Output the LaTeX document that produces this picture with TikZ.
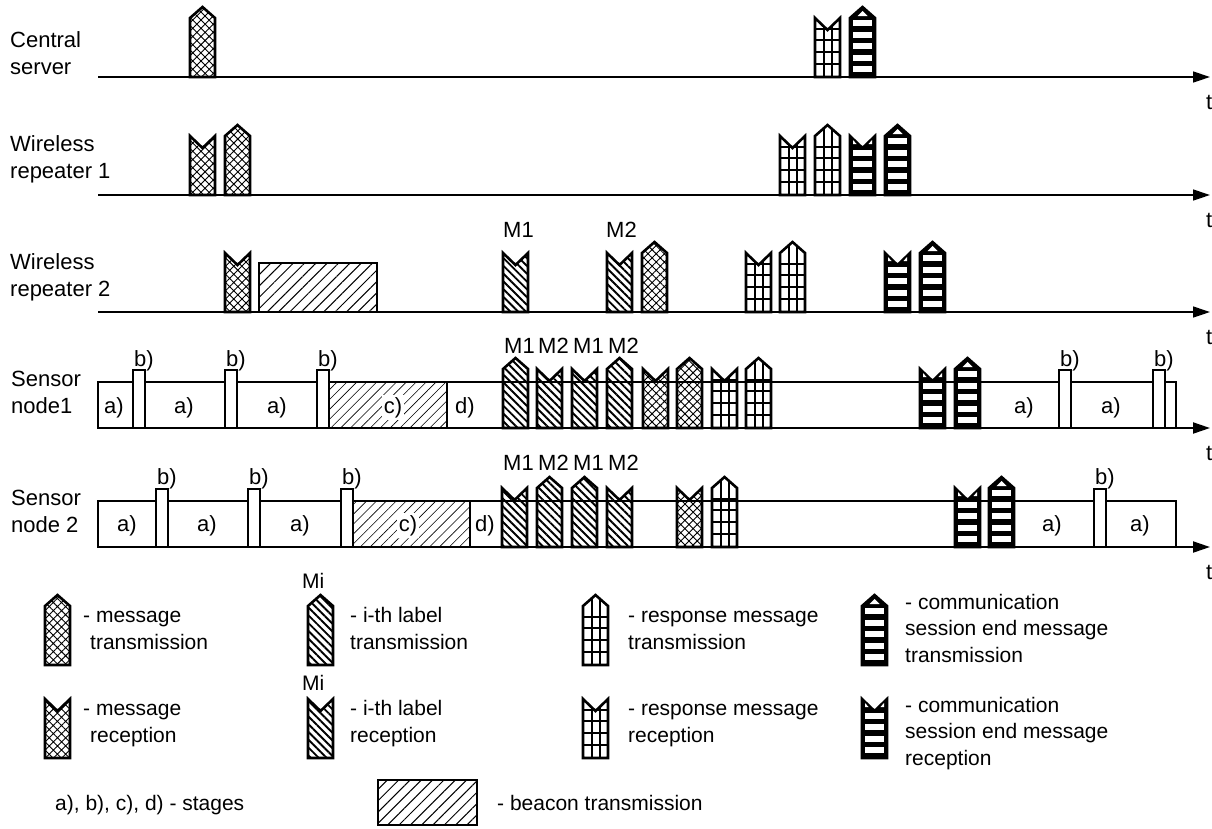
\documentclass[tikz,border=0pt]{standalone}
\usepackage{fontspec}
\setmainfont{Liberation Sans}
\usetikzlibrary{arrows.meta, patterns.meta}

% outlines of the two symbol kinds (base left corner at the origin)
\def\txpath{(0,0) -- (0,-59) -- (12.5,-70) -- (25,-59) -- (25,0) -- cycle}
\def\rxpath{(0,0) -- (0,-59) -- (12.5,-47) -- (25,-59) -- (25,0) -- cycle}

\begin{document}
\begin{tikzpicture}[
    x=1pt, y=-1pt,
    txt/.style={font=\fontsize{22}{27}\selectfont, inner sep=0pt, anchor=base west, align=left},
    lgd/.style={font=\fontsize{21}{26.5}\selectfont, inner sep=0pt, anchor=base west, align=left},
    stg/.style={font=\fontsize{22}{27}\selectfont, inner sep=0pt, anchor=base},
    axis/.style={line width=1.3pt, -{Triangle[length=17pt, width=11pt]}},
    outline/.style={draw, line width=2.6pt},
    msgfill/.style={outline, pattern={Hatch[angle=45, distance=5.8pt, line width=0.9pt]}},
    lblfill/.style={outline, pattern={Lines[angle=-45, distance=5.5pt, line width=1.9pt]}},
    beacon/.style={outline, pattern={Lines[angle=45, distance=8pt, line width=1pt]}},
    stagebox/.style={draw, line width=2pt},
    stagehatch/.style={draw, line width=2pt, pattern={Lines[angle=45, distance=7pt, line width=0.6pt]}},
    pulse/.style={draw, fill=white, line width=2pt},
    pics/msg/.style={code={\path[msgfill] #1;}},
    pics/lbl/.style={code={\path[lblfill] #1;}},
    pics/resp/.style={code={
        \begin{scope}
          \clip #1;
          \foreach \h in {13,25,37,48} \draw[line width=1.8pt] (0,-\h) -- (25,-\h);
          \draw[line width=2pt] (8.5,0) -- (8.5,-70) (16.5,0) -- (16.5,-70);
        \end{scope}
        \path[outline] #1;}},
    pics/sesstx/.style={code={
        \path[outline, fill=black] \txpath;
        \fill[white] (7.5,-61) -- (12.5,-66) -- (17.5,-61) -- cycle;
        \foreach \h in {5,16.5,28,39.5,51} \fill[white] (3,-\h) rectangle (22,-\h-6);}},
    pics/sessrx/.style={code={
        \path[outline, fill=black] \rxpath;
        \fill[white] (3,-51) -- (3,-55) -- (6.5,-51) -- cycle;
        \fill[white] (22,-51) -- (22,-55) -- (18.5,-51) -- cycle;
        \foreach \h in {5,16.5,28,39.5} \fill[white] (3,-\h) rectangle (22,-\h-6);}},
]
\useasboundingbox (0,0) rectangle (1212,828);

% ---- Central server ----
\node[txt] (cs) at (10,74) {Central\\server};
\draw[axis] (98,77) -- (1210,77);
\node[txt] (t1) at (1206,109) {t};
\pic at (190,77) {msg=\txpath};
\pic at (815,77) {resp=\rxpath};
\pic at (850,77) {sesstx};

% ---- Wireless repeater 1 ----
\node[txt] (wr1) at (10,178) {Wireless\\repeater 1};
\draw[axis] (98,195) -- (1210,195);
\node[txt] (t2) at (1206,227) {t};
\pic at (190,195) {msg=\rxpath};
\pic at (225,195) {msg=\txpath};
\pic at (780,195) {resp=\rxpath};
\pic at (815,195) {resp=\txpath};
\pic at (850,195) {sessrx};
\pic at (885,195) {sesstx};

% ---- Wireless repeater 2 ----
\node[txt] (wr2) at (10,296) {Wireless\\repeater 2};
\draw[axis] (98,312) -- (1210,312);
\node[txt] (t3) at (1206,344) {t};
\pic at (225,312) {msg=\rxpath};
\path[beacon] (259,312) rectangle (377,263);
\node[txt] (r2m1) at (503,237) {M1};
\pic at (503,312) {lbl=\rxpath};
\node[txt] (r2m2) at (606,237) {M2};
\pic at (607,312) {lbl=\rxpath};
\pic at (642,312) {msg=\txpath};
\pic at (746,312) {resp=\rxpath};
\pic at (780,312) {resp=\txpath};
\pic at (885,312) {sessrx};
\pic at (920,312) {sesstx};

% ---- Sensor node1 ----
\node[txt] (sn1) at (11,413) {Sensor\\node1};
\draw[stagebox] (98,428) rectangle (1176,382);
\path[stagehatch] (329,382) rectangle (447,428);
\draw[axis, line width=2pt] (98,428) -- (1210,428);
\node[txt] (t4) at (1206,460) {t};
\foreach \x [count=\i] in {133,225,317,1059,1153} {
    \draw[pulse] (\x,428) rectangle ++(12,-58);
    \node[txt] (s1b\i) at (\x+1,366) {b)};
}
\foreach \x [count=\i] in {114,184,277,1024,1111}
    \node[stg] (s1a\i) at (\x,413) {a)};
\node[stg, fill=white, inner sep=2pt] (s1c) at (393,413) {c)};
\node[stg] (s1d) at (465,413) {d)};
\foreach \x/\m [count=\i] in {503/M1,537/M2,572/M1,607/M2}
    \node[txt] (s1m\i) at (\x+1,353) {\m};
\pic at (503,428) {lbl=\txpath};
\pic at (537,428) {lbl=\rxpath};
\pic at (572,428) {lbl=\rxpath};
\pic at (607,428) {lbl=\txpath};
\pic at (643,428) {msg=\rxpath};
\pic at (677,428) {msg=\txpath};
\pic at (712,428) {resp=\rxpath};
\pic at (746,428) {resp=\txpath};
\pic at (920,428) {sessrx};
\pic at (955,428) {sesstx};

% ---- Sensor node 2 ----
\node[txt] (sn2) at (11,532) {Sensor\\node 2};
\draw[stagebox] (98,547) rectangle (1176,501);
\path[stagehatch] (353,501) rectangle (470,547);
\draw[axis, line width=2pt] (98,547) -- (1210,547);
\node[txt] (t5) at (1206,579) {t};
\foreach \x [count=\i] in {156,248,341,1094} {
    \draw[pulse] (\x,547) rectangle ++(12,-58);
    \node[txt] (s2b\i) at (\x+1,484) {b)};
}
\foreach \x [count=\i] in {127,207,300,1052,1140}
    \node[stg] (s2a\i) at (\x,531) {a)};
\node[stg, fill=white, inner sep=2pt] (s2c) at (408,531) {c)};
\node[stg] (s2d) at (485,531) {d)};
\foreach \x/\m [count=\i] in {502/M1,537/M2,572/M1,607/M2}
    \node[txt] (s2m\i) at (\x+1,470) {\m};
\pic at (502,547) {lbl=\rxpath};
\pic at (537,547) {lbl=\txpath};
\pic at (572,547) {lbl=\txpath};
\pic at (607,547) {lbl=\rxpath};
\pic at (677,547) {msg=\rxpath};
\pic at (712,547) {resp=\txpath};
\pic at (955,547) {sessrx};
\pic at (989,547) {sesstx};

% ---- Legend ----
\pic at (45,665) {msg=\txpath};
\node[lgd] (lg1) at (83,649) {- message\\\hspace*{7pt}transmission};
\pic at (45,758) {msg=\rxpath};
\node[lgd] (lg2) at (83,742) {- message\\\hspace*{7pt}reception};

\node[lgd] (lgmi1) at (302,588) {Mi};
\pic at (308,665) {lbl=\txpath};
\node[lgd] (lg3) at (350,649) {- i-th label\\transmission};
\node[lgd] (lgmi2) at (302,690) {Mi};
\pic at (308,758) {lbl=\rxpath};
\node[lgd] (lg4) at (350,742) {- i-th label\\reception};

\pic at (583,665) {resp=\txpath};
\node[lgd] (lg5) at (628,649) {- response message\\transmission};
\pic at (583,758) {resp=\rxpath};
\node[lgd] (lg6) at (628,742) {- response message\\reception};

\pic at (862,665) {sesstx};
\node[lgd] (lg7) at (905,662) {- communication\\session end message\\transmission};
\pic at (862,758) {sessrx};
\node[lgd] (lg8) at (905,765) {- communication\\session end message\\reception};

\node[lgd] (lg9) at (55,810) {a), b), c), d) - stages};
\path[beacon] (378,780) rectangle (477,825);
\node[lgd] (lg10) at (497,810) {- beacon transmission};

\end{tikzpicture}
\end{document}
